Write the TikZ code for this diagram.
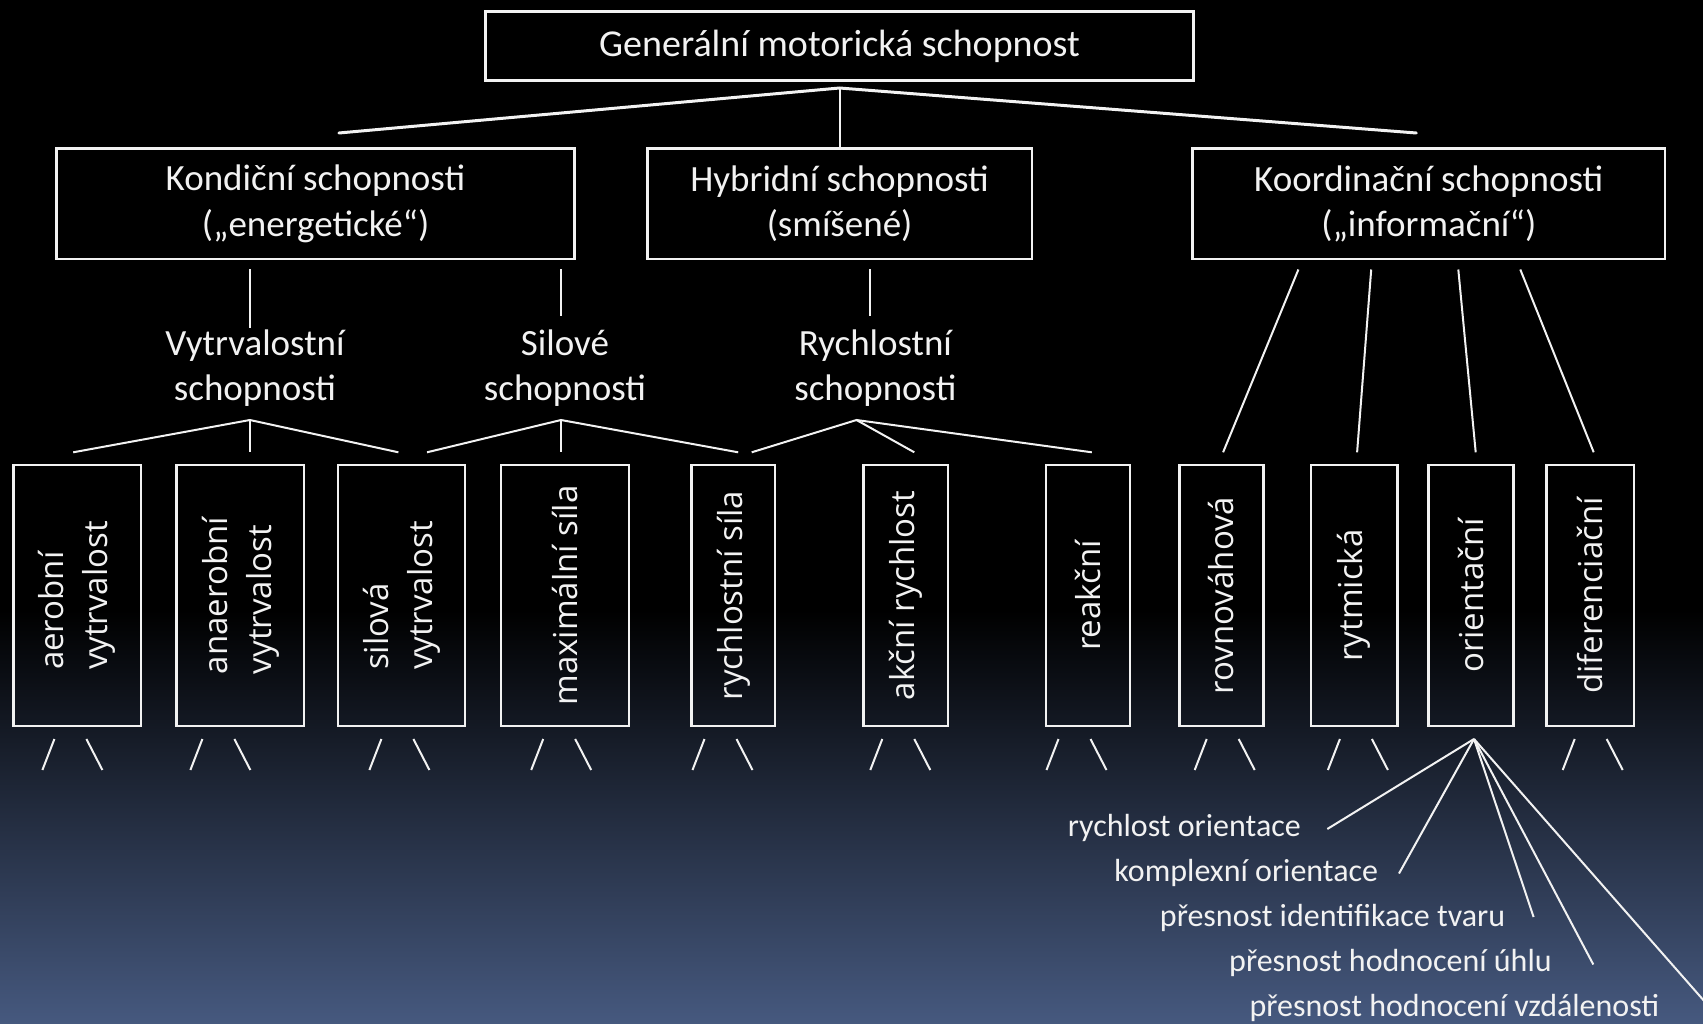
\documentclass[tikz,border=0pt]{standalone}
\usepackage{fontspec}
\setmainfont{Carlito}
\newfontfamily\rotfont{Open Sans}
\definecolor{bgbot}{RGB}{70,89,127}
\definecolor{ink}{RGB}{242,242,242}
\begin{document}
\begin{tikzpicture}[x=1pt,y=-1pt,
  every node/.style={text=ink},
  frame/.style={draw=ink, line width=2.5pt, inner sep=0pt, align=center},
  topbox/.style={frame, font=\fontsize{38}{46}\selectfont},
  midbox/.style={frame, minimum height=110.5, font=\fontsize{37}{45.5}\selectfont},
  lab/.style={align=center, inner sep=0pt, font=\fontsize{37}{45}\selectfont},
  rotbox/.style={frame, minimum height=261, font=\rotfont\fontsize{33}{44}\selectfont},
  small/.style={inner sep=0pt, font=\fontsize{32}{38}\selectfont},
  conn/.style={draw=ink, line width=2pt},
  thick conn/.style={draw=ink, line width=3pt, line cap=round}
]
\useasboundingbox (0,0) rectangle (1703,1023);
\clip (0,0) rectangle (1703,1023);
\fill[black] (0,0) rectangle (1703,1023);
\shade[top color=black, bottom color=bgbot] (0,610) rectangle (1703,1024);

% level 1
\node[topbox, minimum width=708, minimum height=69] (gen) at (839.6,46.2) {Generální motorická schopnost};
% level 2
\node[midbox, minimum width=518] (kon) at (315.5,203.8) {Kondiční schopnosti\\(„energetické“)};
\node[midbox, minimum width=384.5] (hyb) at (839.6,203.8) {Hybridní schopnosti\\(smíšené)};
\node[midbox, minimum width=472.4] (koo) at (1428.8,203.8) {Koordinační schopnosti\\(„informační“)};
% labels
\node[lab] (vyt) at (255,368) {Vytrvalostní\\schopnosti};
\node[lab] (sil) at (565,368) {Silové\\schopnosti};
\node[lab] (ryc) at (875.4,368) {Rychlostní\\schopnosti};
% level 3 boxes
\node[rotbox, minimum width=127.4] (b1) at (77.2,595.5) {\rotatebox{90}{\begin{tabular}{@{}l@{}}aerobní\\vytrvalost\end{tabular}}};
\node[rotbox, minimum width=127.4] (b2) at (240.4,595.5) {\rotatebox{90}{\begin{tabular}{@{}l@{}}anaerobní\\vytrvalost\end{tabular}}};
\node[rotbox, minimum width=127.3] (b3) at (401.4,595.5) {\rotatebox{90}{\begin{tabular}{@{}l@{}}silová\\vytrvalost\end{tabular}}};
\node[rotbox, minimum width=127.9] (b4) at (564.8,595.5) {\rotatebox{90}{maximální síla}};
\node[rotbox, minimum width=83.5] (b5) at (733.4,595.5) {\rotatebox{90}{rychlostní síla}};
\node[rotbox, minimum width=84.3] (b6) at (905.8,595.5) {\rotatebox{90}{akční rychlost}};
\node[rotbox, minimum width=84.3] (b7) at (1088,595.5) {\rotatebox{90}{reakční}};
\node[rotbox, minimum width=84.3] (b8) at (1221.4,595.5) {\rotatebox{90}{rovnováhová}};
\node[rotbox, minimum width=86.5] (b9) at (1354,595.5) {\rotatebox{90}{rytmická}};
\node[rotbox, minimum width=84.9] (b10) at (1470.8,595.5) {\rotatebox{90}{orientační}};
\node[rotbox, minimum width=87.6] (b11) at (1590.2,595.5) {\rotatebox{90}{diferenciační}};
% bottom labels
\node[small, anchor=east] (o1) at (1301,827.6) {rychlost orientace};
\node[small, anchor=east] (o2) at (1378.3,873.2) {komplexní orientace};
\node[small, anchor=east] (o3) at (1505.3,917.8) {přesnost identifikace tvaru};
\node[small, anchor=east] (o4) at (1552,963.4) {přesnost hodnocení úhlu};
\node[small, anchor=east] (o5) at (1659.6,1007.9) {přesnost hodnocení vzdálenosti};

% top connectors
\coordinate (a0) at (839.6,88);
\coordinate (a0l) at (338.9,133);
\coordinate (a0r) at (1416.3,133);
\draw[thick conn] (a0l) -- (a0) -- (a0r);
\draw[conn] (a0) -- (hyb.north);
% level 2 verticals
\coordinate (kv1) at (249.9,269); \coordinate (kv1e) at (249.9,328);
\coordinate (kv2) at (561,269); \coordinate (kv2e) at (561,316);
\coordinate (hv) at (869.6,269); \coordinate (hve) at (869.6,316);
\draw[conn] (kv1) -- (kv1e);
\draw[conn] (kv2) -- (kv2e);
\draw[conn] (hv) -- (hve);
% branches
\coordinate (va) at (249.9,420);
\coordinate (va1) at (73.2,452.3); \coordinate (va2) at (249.9,452.3); \coordinate (va3) at (398.4,452.3);
\draw[conn] (va1) -- (va) -- (va3); \draw[conn] (va) -- (va2);
\coordinate (sa) at (561,420);
\coordinate (sa1) at (427,452.3); \coordinate (sa2) at (561,452.3); \coordinate (sa3) at (738.2,452.3);
\draw[conn] (sa1) -- (sa) -- (sa3); \draw[conn] (sa) -- (sa2);
\coordinate (ra) at (856.5,420);
\coordinate (ra1) at (751.7,452.3); \coordinate (ra2) at (914.3,452.3); \coordinate (ra3) at (1091.8,452.3);
\draw[conn] (ra1) -- (ra) -- (ra3); \draw[conn] (ra) -- (ra2);
% koordinacni
\coordinate (k1t) at (1298.4,269.5); \coordinate (k1b) at (1223.1,452.3);
\coordinate (k2t) at (1371.2,269.5); \coordinate (k2b) at (1357.1,452.3);
\coordinate (k3t) at (1458.3,269.5); \coordinate (k3b) at (1475.7,452.3);
\coordinate (k4t) at (1520.3,269.5); \coordinate (k4b) at (1593.7,452.3);
\draw[conn] (k1t) -- (k1b);
\draw[conn] (k2t) -- (k2b);
\draw[conn] (k3t) -- (k3b);
\draw[conn] (k4t) -- (k4b);
% stubs
\foreach \p [count=\i] in {71.4,219.4,398.4,560.2,721.5,899.3,1075.5,1223.7,1356.9,1591.7}{
  \coordinate (sl\i) at (\p-17,739); \coordinate (slb\i) at (\p-29,770);
  \coordinate (sr\i) at (\p+15,739); \coordinate (srb\i) at (\p+31,770);
  \draw[conn] (sl\i) -- (slb\i);
  \draw[conn] (sr\i) -- (srb\i);
}
% fan
\coordinate (fa) at (1474,739);
\coordinate (f1) at (1327.3,829);
\coordinate (f2) at (1399,873.5);
\coordinate (f3) at (1533.6,917);
\coordinate (f4) at (1593.3,964.5);
\coordinate (f5) at (1720,1019);
\draw[conn] (fa) -- (f1);
\draw[conn] (fa) -- (f2);
\draw[conn] (fa) -- (f3);
\draw[conn] (fa) -- (f4);
\draw[conn] (fa) -- (f5);
\end{tikzpicture}
\end{document}
